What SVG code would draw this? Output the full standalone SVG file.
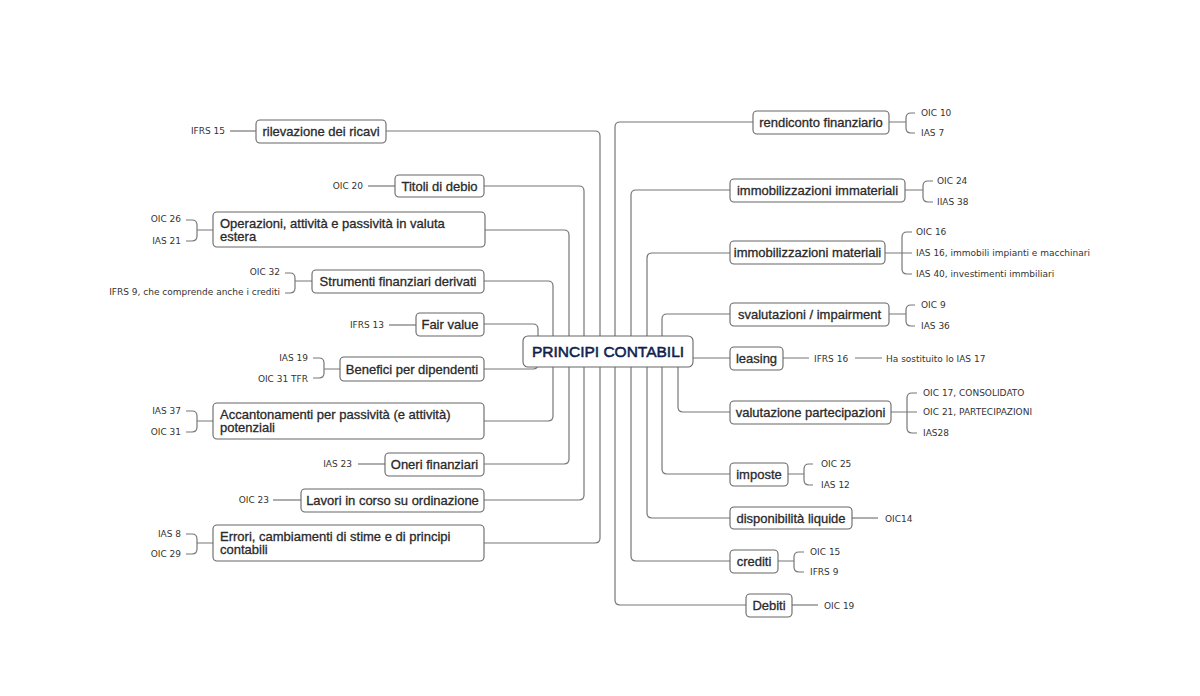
<svg xmlns="http://www.w3.org/2000/svg" width="1200" height="696" viewBox="0 0 1200 696">
<style>
.box{fill:#fff;stroke:#666;stroke-width:1.1}
.c{fill:none;stroke:#777;stroke-width:1.2}
.t{font-family:"Liberation Sans",Arial,sans-serif;font-size:13px;fill:#2a2a2a;stroke:#2a2a2a;stroke-width:0.3}
.m{text-anchor:middle}
.l{font-family:"DejaVu Sans",Verdana,sans-serif;font-size:9px;fill:#333}
.e{text-anchor:end}
.ct{font-family:"Liberation Sans",Arial,sans-serif;font-size:15.5px;fill:#0f1f4f;stroke:#0f1f4f;stroke-width:0.55;text-anchor:middle}
</style>
<rect width="1200" height="696" fill="#fff"/>
<g id="connectors" class="c">
<path d="M386 131H595Q600 131 600 136V337"/>
<path d="M484 543H595Q600 543 600 538V367"/>
<path d="M484 186H579Q584 186 584 191V337"/>
<path d="M484 500H579Q584 500 584 495V367"/>
<path d="M485 230H564Q569 230 569 235V337"/>
<path d="M484 464H564Q569 464 569 459V367"/>
<path d="M484 281H548Q553 281 553 286V337"/>
<path d="M484 421H548Q553 421 553 416V367"/>
<path d="M484 324H533Q538 324 538 329V337"/>
<path d="M484 369H533Q538 369 538 364V367"/>
<path d="M753 122H620Q615 122 615 127V337"/>
<path d="M746 605H620Q615 605 615 600V367"/>
<path d="M730 190H636Q631 190 631 195V337"/>
<path d="M730 561H636Q631 561 631 556V367"/>
<path d="M730 253H652Q647 253 647 258V337"/>
<path d="M730 518H652Q647 518 647 513V367"/>
<path d="M730 314H667Q662 314 662 319V337"/>
<path d="M730 474H667Q662 474 662 469V367"/>
<path d="M730 412H683Q678 412 678 407V367"/>
<path d="M693 358H730"/>
<!-- left label links -->
<path d="M230 131H256"/>
<path d="M368 186H395"/>
<path d="M186 220H192Q197 220 197 225V236Q197 241 192 241H186M197 230H213"/>
<path d="M285 273H290Q295 273 295 278V288Q295 293 290 293H285M295 281H312"/>
<path d="M389 325H416"/>
<path d="M313 358H319Q324 358 324 363V373Q324 378 319 378H313M324 369H340"/>
<path d="M186 411H192Q197 411 197 416V427Q197 432 192 432H186M197 421H213"/>
<path d="M358 464H385"/>
<path d="M273 500H301"/>
<path d="M186 534H192Q197 534 197 539V549Q197 554 192 554H186M197 543H213"/>
<!-- right label links -->
<path d="M889 122H906M915 113H911Q906 113 906 118V128Q906 133 911 133H915"/>
<path d="M905 190H923M933 181H928Q923 181 923 186V197Q923 202 928 202H933"/>
<path d="M885 253H912M912 232H907Q902 232 902 237V269Q902 274 907 274H912"/>
<path d="M889 314H906M915 305H911Q906 305 906 310V321Q906 326 911 326H915"/>
<path d="M783 358H809M855 358H882"/>
<path d="M891 412H917M917 393H912Q907 393 907 398V428Q907 433 912 433H917"/>
<path d="M788 474H804M813 464H809Q804 464 804 469V480Q804 485 809 485H813"/>
<path d="M852 518H878"/>
<path d="M778 561H794M804 552H799Q794 552 794 557V567Q794 572 799 572H804"/>
<path d="M792 605H818"/>
</g>
<g id="center">
<rect class="box" x="523" y="336" width="170" height="31" rx="5"/>
<text class="ct" x="608" y="357">PRINCIPI CONTABILI</text>
</g>
<g id="n-ricavi">
<rect class="box" x="256" y="120" width="130" height="23" rx="4"/>
<text class="t m" x="321" y="135.5">rilevazione dei ricavi</text>
<text class="l e" x="225" y="134">IFRS 15</text>
</g>
<g id="n-titoli">
<rect class="box" x="395" y="175" width="89" height="22" rx="4"/>
<text class="t m" x="439.5" y="190.5">Titoli di debio</text>
<text class="l e" x="363" y="189">OIC 20</text>
</g>
<g id="n-operazioni">
<rect class="box" x="213" y="212" width="272" height="35" rx="4"/>
<text class="t" x="220" y="227.5">Operazioni, attività e passività in valuta</text>
<text class="t" x="220" y="241">estera</text>
<text class="l e" x="181" y="222">OIC 26</text>
<text class="l e" x="181" y="244">IAS 21</text>
</g>
<g id="n-strumenti">
<rect class="box" x="312" y="270" width="172" height="23" rx="4"/>
<text class="t m" x="398" y="286">Strumenti finanziari derivati</text>
<text class="l e" x="280" y="275">OIC 32</text>
<text class="l e" x="280" y="295">IFRS 9, che comprende anche i crediti</text>
</g>
<g id="n-fair">
<rect class="box" x="416" y="313" width="68" height="23" rx="4"/>
<text class="t m" x="450" y="329">Fair value</text>
<text class="l e" x="384" y="328">IFRS 13</text>
</g>
<g id="n-benefici">
<rect class="box" x="340" y="357" width="144" height="24" rx="4"/>
<text class="t m" x="412" y="373.5">Benefici per dipendenti</text>
<text class="l e" x="308" y="361">IAS 19</text>
<text class="l e" x="308" y="382">OIC 31 TFR</text>
</g>
<g id="n-accantonamenti">
<rect class="box" x="213" y="403" width="271" height="36" rx="4"/>
<text class="t" x="220" y="418.5">Accantonamenti per passività (e attività)</text>
<text class="t" x="220" y="432">potenziali</text>
<text class="l e" x="181" y="414">IAS 37</text>
<text class="l e" x="181" y="435">OIC 31</text>
</g>
<g id="n-oneri">
<rect class="box" x="385" y="453" width="99" height="23" rx="4"/>
<text class="t m" x="434.5" y="469">Oneri finanziari</text>
<text class="l e" x="352" y="467">IAS 23</text>
</g>
<g id="n-lavori">
<rect class="box" x="301" y="489" width="183" height="23" rx="4"/>
<text class="t m" x="392.5" y="505">Lavori in corso su ordinazione</text>
<text class="l e" x="269" y="503">OIC 23</text>
</g>
<g id="n-errori">
<rect class="box" x="213" y="525" width="271" height="36" rx="4"/>
<text class="t" x="220" y="540.5">Errori, cambiamenti di stime e di principi</text>
<text class="t" x="220" y="554">contabili</text>
<text class="l e" x="181" y="537">IAS 8</text>
<text class="l e" x="181" y="557">OIC 29</text>
</g>
<g id="n-rendiconto">
<rect class="box" x="753" y="111" width="136" height="23" rx="4"/>
<text class="t m" x="821" y="127">rendiconto finanziario</text>
<text class="l" x="921" y="116">OIC 10</text>
<text class="l" x="921" y="136">IAS 7</text>
</g>
<g id="n-immateriali">
<rect class="box" x="730" y="179" width="175" height="23" rx="4"/>
<text class="t m" x="817.5" y="195">immobilizzazioni immateriali</text>
<text class="l" x="937" y="184">OIC 24</text>
<text class="l" x="937" y="205">IIAS 38</text>
</g>
<g id="n-materiali">
<rect class="box" x="730" y="241" width="155" height="23" rx="4"/>
<text class="t m" x="807.5" y="257">immobilizzazioni materiali</text>
<text class="l" x="916" y="235">OIC 16</text>
<text class="l" x="916" y="256">IAS 16, immobili impianti e macchinari</text>
<text class="l" x="916" y="277">IAS 40, investimenti immbiliari</text>
</g>
<g id="n-svalutazioni">
<rect class="box" x="730" y="303" width="159" height="23" rx="4"/>
<text class="t m" x="809.5" y="319">svalutazioni / impairment</text>
<text class="l" x="921" y="308">OIC 9</text>
<text class="l" x="921" y="329">IAS 36</text>
</g>
<g id="n-leasing">
<rect class="box" x="730" y="347" width="53" height="23" rx="4"/>
<text class="t m" x="756.5" y="362.5">leasing</text>
<text class="l" x="814" y="362">IFRS 16</text>
<text class="l" x="886" y="362">Ha sostituito lo IAS 17</text>
</g>
<g id="n-partecipazioni">
<rect class="box" x="730" y="401" width="161" height="23" rx="4"/>
<text class="t m" x="810.5" y="417">valutazione partecipazioni</text>
<text class="l" x="923" y="396">OIC 17, CONSOLIDATO</text>
<text class="l" x="923" y="415">OIC 21, PARTECIPAZIONI</text>
<text class="l" x="923" y="436">IAS28</text>
</g>
<g id="n-imposte">
<rect class="box" x="730" y="463" width="58" height="23" rx="4"/>
<text class="t m" x="759" y="479">imposte</text>
<text class="l" x="821" y="467">OIC 25</text>
<text class="l" x="821" y="488">IAS 12</text>
</g>
<g id="n-disponibilita">
<rect class="box" x="730" y="507" width="122" height="22" rx="4"/>
<text class="t m" x="791" y="522.5">disponibilità liquide</text>
<text class="l" x="885" y="522">OIC14</text>
</g>
<g id="n-crediti">
<rect class="box" x="730" y="550" width="48" height="23" rx="4"/>
<text class="t m" x="754" y="566">crediti</text>
<text class="l" x="810" y="555">OIC 15</text>
<text class="l" x="810" y="575">IFRS 9</text>
</g>
<g id="n-debiti">
<rect class="box" x="746" y="594" width="46" height="23" rx="4"/>
<text class="t m" x="769" y="610">Debiti</text>
<text class="l" x="824" y="609">OIC 19</text>
</g>
</svg>
